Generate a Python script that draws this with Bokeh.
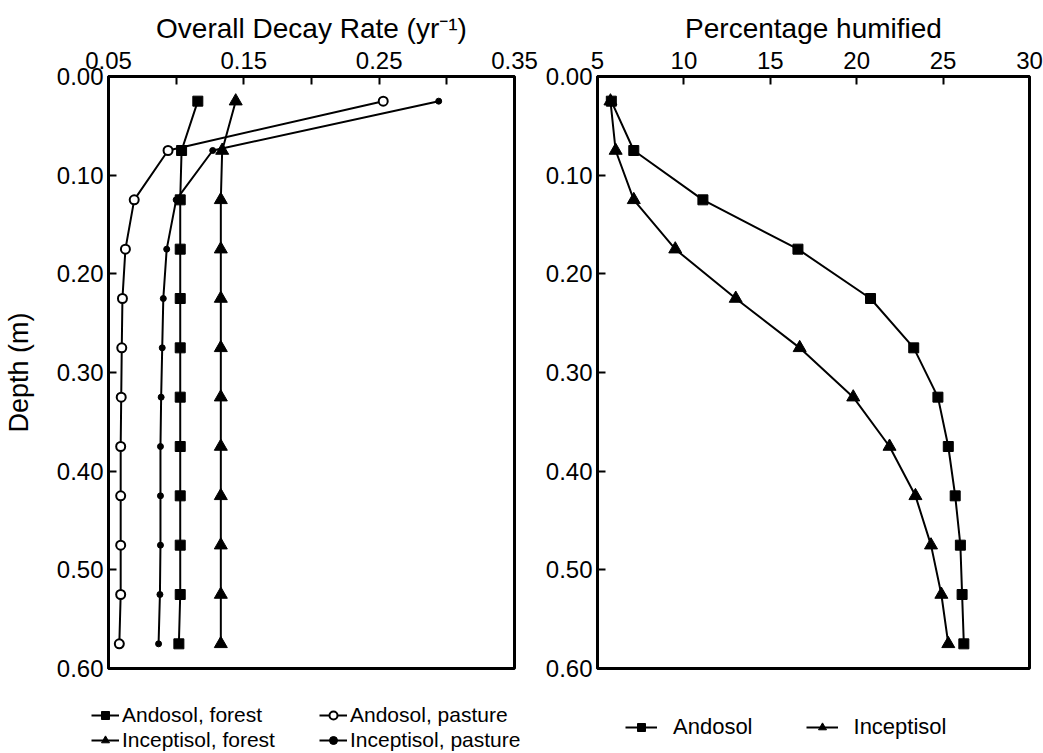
from bokeh.plotting import figure
from bokeh.models import Range1d, FixedTicker, NumeralTickFormatter, Legend, LegendItem
from bokeh.layouts import row, column
from bokeh.embed import file_html
from bokeh.resources import INLINE

# ---------------- data ----------------
depth = [0.025, 0.075, 0.125, 0.175, 0.225, 0.275, 0.325, 0.375, 0.425, 0.475, 0.525, 0.575]

# Overall decay rate (yr^-1)
andosol_forest = [0.116, 0.104, 0.103, 0.103, 0.103, 0.103, 0.103, 0.103, 0.103, 0.103, 0.103, 0.102]
inceptisol_forest = [0.144, 0.134, 0.133, 0.133, 0.133, 0.133, 0.133, 0.133, 0.133, 0.133, 0.133, 0.133]
andosol_pasture = [0.253, 0.094, 0.069, 0.0625, 0.0603, 0.0598, 0.0594, 0.059, 0.059, 0.059, 0.059, 0.058]
inceptisol_pasture = [0.294, 0.127, 0.100, 0.093, 0.0905, 0.0897, 0.0889, 0.0884, 0.0884, 0.0884, 0.088, 0.087]

# Percentage humified
andosol_hum = [5.8, 7.1, 11.1, 16.6, 20.8, 23.3, 24.7, 25.3, 25.7, 26.0, 26.1, 26.2]
inceptisol_hum = [5.75, 6.05, 7.1, 9.5, 13.0, 16.7, 19.8, 21.9, 23.4, 24.3, 24.9, 25.3]

decay_ticks = [0.05, 0.15, 0.25, 0.35]
decay_minor = [0.10, 0.20, 0.30]
hum_ticks = [5, 10, 15, 20, 25, 30]
depth_ticks = [0.0, 0.1, 0.2, 0.3, 0.4, 0.5, 0.6]

FONT = "Liberation Sans"

# marker styles per series
STY = {
    "af": dict(marker="square", size=10, fill_color="black", line_color="black"),
    "ap": dict(marker="circle", size=9, fill_color="white", line_color="black", line_width=2),
    "if": dict(marker="triangle", size=13, fill_color="black", line_color="black"),
    "ip": dict(marker="circle", size=6, fill_color="black", line_color="black"),
}


def style(p):
    p.outline_line_color = "black"
    p.outline_line_width = 3
    p.xgrid.visible = False
    p.ygrid.visible = False
    p.background_fill_color = "white"
    p.border_fill_color = "white"
    for ax in p.axis:
        ax.axis_line_width = 3
        ax.axis_line_color = "black"
        ax.major_tick_in = 8
        ax.major_tick_out = 0
        ax.minor_tick_in = 8
        ax.minor_tick_out = 0
        ax.major_tick_line_width = 2
        ax.minor_tick_line_width = 2
        ax.major_label_text_font = FONT
        ax.major_label_text_font_size = "24px"
        ax.major_label_text_color = "black"
        ax.axis_label_text_font = FONT
        ax.axis_label_text_font_size = "28px"
        ax.axis_label_text_font_style = "normal"
        ax.axis_label_text_color = "black"
    for ax in p.xaxis:
        ax.major_label_standoff = 8
        ax.axis_label_standoff = 5
    for ax in p.yaxis:
        ax.major_label_standoff = 5


def legend_fig(width):
    # a strip under a panel that only holds its legend; its ranges show none of the data
    f = figure(width=width, height=63, x_range=Range1d(-2, -1), y_range=Range1d(-2, -1),
               x_axis_location=None, y_axis_location=None, toolbar_location=None, tools="",
               output_backend="svg", min_border=0)
    f.outline_line_color = None
    f.xgrid.visible = False
    f.ygrid.visible = False
    return f


def legend_style(lg, size):
    lg.border_line_color = None
    lg.background_fill_alpha = 0
    lg.padding = 0
    lg.margin = 0
    lg.label_text_font = FONT
    lg.label_text_font_size = size
    lg.label_text_color = "black"


# ---------------- left panel ----------------
p1 = figure(width=540, height=690, x_range=Range1d(0.05, 0.35), y_range=Range1d(0.6, 0.0),
            x_axis_location="above", toolbar_location=None, tools="", output_backend="svg",
            min_border_left=108, min_border_right=26, min_border_top=76, min_border_bottom=22)
style(p1)
p1.xaxis.ticker = FixedTicker(ticks=decay_ticks, minor_ticks=decay_minor)
p1.xaxis.formatter = NumeralTickFormatter(format="0.00")
p1.yaxis.ticker = FixedTicker(ticks=depth_ticks, minor_ticks=[])
p1.yaxis.formatter = NumeralTickFormatter(format="0.00")
p1.xaxis.axis_label = "Overall Decay Rate (yr\u207b\u00b9)"
p1.yaxis.axis_label = "Depth (m)"
p1.yaxis.axis_label_text_font_size = "27px"
p1.yaxis.axis_label_standoff = 20

series_left = [("af", "Andosol, forest", andosol_forest),
               ("ap", "Andosol, pasture", andosol_pasture),
               ("if", "Inceptisol, forest", inceptisol_forest),
               ("ip", "Inceptisol, pasture", inceptisol_pasture)]
for key, _, vals in series_left:
    p1.line(vals, depth, line_color="black", line_width=2)
    p1.scatter(vals, depth, **STY[key])

f1 = legend_fig(540)
items1 = []
for key, label, vals in series_left:
    lr = f1.line(vals, depth, line_color="black", line_width=2)
    mr = f1.scatter(vals, depth, **STY[key])
    items1.append(LegendItem(label=label, renderers=[lr, mr]))
leg1 = Legend(items=items1, orientation="horizontal", ncols=2, location=(91, 1))
legend_style(leg1, "21px")
leg1.glyph_width = 28
leg1.glyph_height = 20
leg1.label_height = 20
leg1.label_standoff = 3
leg1.label_width = 196
leg1.spacing = 1
f1.add_layout(leg1)

# ---------------- right panel ----------------
p2 = figure(width=503, height=690, x_range=Range1d(5, 30), y_range=Range1d(0.6, 0.0),
            x_axis_location="above", toolbar_location=None, tools="", output_backend="svg",
            min_border_left=57, min_border_right=14, min_border_top=76, min_border_bottom=22)
style(p2)
p2.xaxis.ticker = FixedTicker(ticks=hum_ticks, minor_ticks=[])
p2.yaxis.ticker = FixedTicker(ticks=depth_ticks, minor_ticks=[])
p2.yaxis.formatter = NumeralTickFormatter(format="0.00")
p2.xaxis.axis_label = "Percentage humified"

series_right = [("af", "Andosol", andosol_hum),
                ("if", "Inceptisol", inceptisol_hum)]
for key, _, vals in series_right:
    p2.line(vals, depth, line_color="black", line_width=2)
    p2.scatter(vals, depth, **STY[key])

f2 = legend_fig(503)
items2 = []
for key, label, vals in series_right:
    lr = f2.line(vals, depth, line_color="black", line_width=2)
    mr = f2.scatter(vals, depth, **STY[key])
    items2.append(LegendItem(label=label, renderers=[lr, mr]))
leg2 = Legend(items=items2, orientation="horizontal", location=(85, 13))
legend_style(leg2, "22px")
leg2.glyph_width = 32
leg2.glyph_height = 20
leg2.label_height = 20
leg2.label_standoff = 16
leg2.spacing = 53
f2.add_layout(leg2)

layout = column(row(p1, p2), row(f1, f2))
open("out.html", "w").write(file_html(layout, INLINE))
